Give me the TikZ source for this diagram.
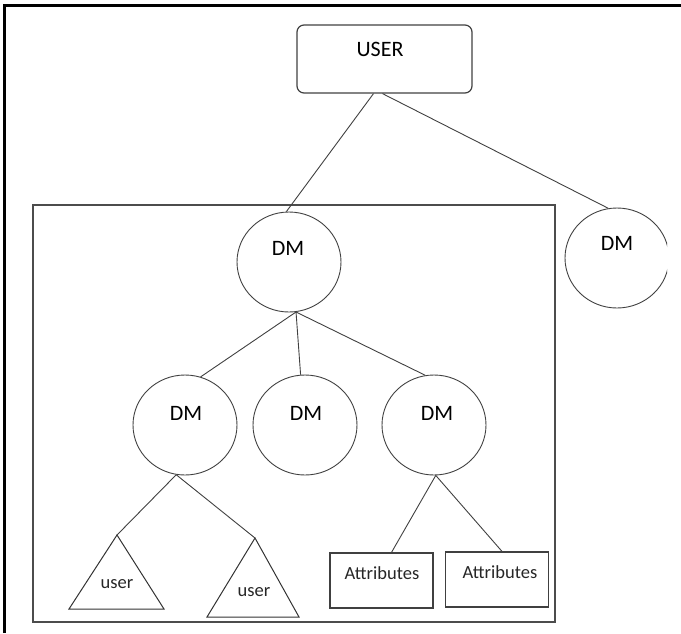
\documentclass[tikz,border=0pt]{standalone}
\usepackage{fontspec}
\setmainfont{Carlito}
\usetikzlibrary{shapes.geometric,calc}
\begin{document}
\begin{tikzpicture}[x=1pt,y=-1pt,
  conn/.style={draw=black!75,line width=0.9pt},
  dmnode/.style={ellipse,draw=black!75,line width=0.9pt,minimum width=104pt,minimum height=100pt,inner sep=0pt},
  dmtext/.style={font=\fontsize{22}{24}\selectfont,inner sep=0pt},
  smalltext/.style={font=\fontsize{18.5}{20}\selectfont,inner sep=0pt,text=black!85},
  attrbox/.style={draw=black!75,line width=1.2pt,minimum width=103pt,minimum height=55pt,inner sep=0pt},
  tri/.style={draw=black!80,line width=1pt,line join=miter}]
\useasboundingbox (0,0) rectangle (681,633);
% outer frame (top and left)
\draw[line width=3pt] (4,633) -- (4,5) -- (681,5);
% inner box
\node[draw=black!70,line width=1.5pt,minimum width=522pt,minimum height=417pt,inner sep=0pt] (frame) at (294,413.5) {};
% USER box
\node[draw=black!75,line width=1.2pt,rounded corners=7pt,minimum width=175pt,minimum height=68pt,inner sep=0pt] (user) at (384.5,59) {};
\node[dmtext] (usert) at (380,49) {USER};
% DM nodes
\node[dmnode] (dm0) at (289,262) {};
\node[dmtext] (dm0t) at (288,248) {DM};
\begin{scope}
\clip (540,190) rectangle (667,330);
\node[dmnode] (dmx) at (617,258) {};
\end{scope}
\node[dmtext] (dmxt) at (617,243) {DM};
\node[dmnode] (dmL) at (185,425) {};
\node[dmtext] (dmLt) at (186,413) {DM};
\node[dmnode] (dmM) at (305,425) {};
\node[dmtext] (dmMt) at (306,413) {DM};
\node[dmnode] (dmR) at (434,425) {};
\node[dmtext] (dmRt) at (437,413) {DM};
% triangles
\coordinate (triA) at (117,535);
\coordinate (triB) at (255,538);
\draw[tri] (triA) -- (69,609) -- (164,609) -- cycle;
\draw[tri] (triB) -- (207,617) -- (299,617) -- cycle;
\node[smalltext] (u1) at (117,584) {user};
\node[smalltext] (u2) at (254,592) {user};
% attribute boxes
\node[attrbox] (at1) at (381.5,580.5) {};
\node[smalltext] (at1t) at (382,573) {Attributes};
\node[attrbox] (at2) at (497,579.5) {};
\node[smalltext] (at2t) at (500,572) {Attributes};
% connectors
\draw[conn] ($(user.south)+(-11,0)$) -- (dm0.93);
\draw[conn] ($(user.south)+(-2,0)$) -- (dmx.100);
\draw[conn] (dm0.-82) -- (dmL.72);
\draw[conn] (dm0.-82) -- (dmM.95);
\draw[conn] (dm0.-82) -- (dmR.100);
\draw[conn] (dmL.-100) -- (triA);
\draw[conn] (dmL.-100) -- (triB);
\draw[conn] (dmR.-88) -- ($(at1.north)+(10,0)$);
\draw[conn] (dmR.-88) -- ($(at2.north)+(5,0)$);
\end{tikzpicture}
\end{document}
